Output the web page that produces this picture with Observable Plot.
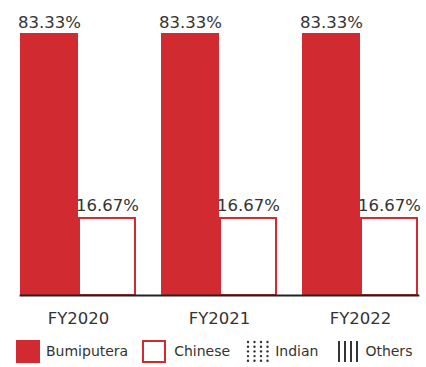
<!DOCTYPE html>
<html><head><meta charset="utf-8">
<script src="https://cdn.jsdelivr.net/npm/d3@7"></script>
<script src="https://cdn.jsdelivr.net/npm/@observablehq/plot@0.6"></script>
<style>
body{margin:0;background:#fff;font-family:"DejaVu Sans",sans-serif;color:#333;}
#legend{display:flex;align-items:center;height:26px;padding-left:16px;font-size:14px;}
#legend .item{display:flex;align-items:center;}
</style></head>
<body>
<div id="chart"></div>
<div id="legend"></div>
<script>
const years = ["FY2020", "FY2021", "FY2022"];
const seriesNames = ["Bumiputera", "Chinese", "Indian", "Others"];
const bumiputera = [83.33, 83.33, 83.33];
const chinese = [16.67, 16.67, 16.67];
const indian = [0, 0, 0];
const others = [0, 0, 0];
const axisFloor = -11.6; // visual baseline of the original chart's value axis

const values = {Bumiputera: bumiputera, Chinese: chinese, Indian: indian, Others: others};
const data = [];
years.forEach((y, i) => seriesNames.forEach(s => {
  if (values[s][i] > 0) data.push({year: y, series: s, value: values[s][i]});
}));
const shown = seriesNames.filter(s => data.some(d => d.series === s));
const red = "#d12a31";

const chart = Plot.plot({
  width: 426, height: 338,
  marginTop: 33, marginBottom: 43, marginLeft: 19, marginRight: 7,
  style: {fontFamily: "DejaVu Sans", color: "#333", background: "#fff"},
  fx: {domain: years, paddingInner: 0.176, paddingOuter: 0, label: null, axis: null},
  x: {domain: shown, padding: 0, axis: null},
  y: {domain: [axisFloor, 83.33], axis: null},
  marks: [
    Plot.barY(data.filter(d => d.series === "Bumiputera"), {fx: "year", x: "series", y1: axisFloor, y2: "value", fill: red}),
    Plot.barY(data.filter(d => d.series === "Chinese"), {fx: "year", x: "series", y1: axisFloor, y2: "value", fill: "#fff", stroke: red, strokeWidth: 2, insetLeft: 1, insetRight: 1, insetTop: 1}),
    Plot.text(data, {fx: "year", x: "series", y: "value", text: d => d.value.toFixed(2) + "%", lineAnchor: "bottom", dy: -6, fontSize: 16.5, fill: "#333"}),
    Plot.axisFx({anchor: "bottom", tickSize: 0, tickPadding: 17, fontSize: 16.5, label: null, color: "#333"}),
    Plot.frame({anchor: "bottom", stroke: "#222", strokeWidth: 1.8, facet: "super"})
  ]
});
document.getElementById("chart").appendChild(chart);

const sw = {
  Bumiputera: `<svg width="24" height="23"><rect width="24" height="23" fill="${red}"/></svg>`,
  Chinese: `<svg width="24" height="23"><rect x="1" y="1" width="22" height="21" fill="#fff" stroke="${red}" stroke-width="2"/></svg>`,
  Indian: `<svg width="24" height="23">${[0,1,2,3].map(c => [0,1,2,3,4].map(r => `<circle cx="${2+c*6.5}" cy="${2+r*4.7}" r="1.2" fill="#333"/>`).join("")).join("")}</svg>`,
  Others: `<svg width="24" height="23">${[0,1,2,3].map(c => `<rect x="${1+c*6}" y="1" width="2" height="21" fill="#333"/>`).join("")}</svg>`
};
const gaps = {Bumiputera: 14, Chinese: 16, Indian: 19, Others: 0};
const pads = {Bumiputera: 6, Chinese: 8, Indian: 5, Others: 4};
document.getElementById("legend").innerHTML = seriesNames.map(s =>
  `<span class="item" style="margin-right:${gaps[s]}px">${sw[s].replace("<svg", `<svg style="margin-right:${pads[s]}px"`)}${s}</span>`).join("");
</script>
</body></html>
